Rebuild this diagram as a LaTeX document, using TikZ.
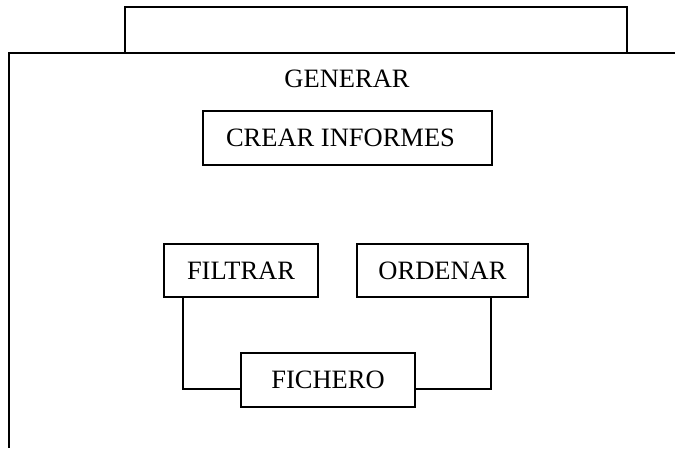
\documentclass[tikz,border=0pt]{standalone}
\usepackage{fontspec}
\setmainfont{Liberation Serif}
\begin{document}
\begin{tikzpicture}[x=1pt, y=-1pt,
  line width=1.2pt,
  box/.style={draw, rectangle, inner sep=0pt, anchor=center,
    font=\fontsize{26.5}{31}\selectfont},
  label/.style={inner sep=0pt, font=\fontsize{26.5}{31}\selectfont}]
  \useasboundingbox (0,0) rectangle (675,448);
  % upper empty box resting on the frame
  \node[box, minimum width=502pt, minimum height=46pt] (upper) at (376,30) {};
  % open frame of the GENERAR module
  \coordinate (frameTL) at (9,53);
  \coordinate (frameTR) at (675,53);
  \coordinate (frameBL) at (9,448);
  \draw (frameTR) -- (frameTL) -- (frameBL);
  \node[label] (generar) at (347,79) {GENERAR};
  % boxes
  \node[box, minimum width=289pt, minimum height=54pt] (crear) at (347.5,138) {CREAR INFORMES\hspace*{14pt}};
  \node[box, minimum width=154pt, minimum height=53pt] (filtrar) at (241,270.5) {FILTRAR};
  \node[box, minimum width=171pt, minimum height=53pt] (ordenar) at (442.5,270.5) {ORDENAR};
  \node[box, minimum width=174pt, minimum height=54pt] (fichero) at (328,380) {FICHERO};
  % connectors
  \draw ([xshift=-58pt]filtrar.south) |- ([yshift=-9pt]fichero.west);
  \draw ([xshift=48.5pt]ordenar.south) |- ([yshift=-9pt]fichero.east);
\end{tikzpicture}
\end{document}
